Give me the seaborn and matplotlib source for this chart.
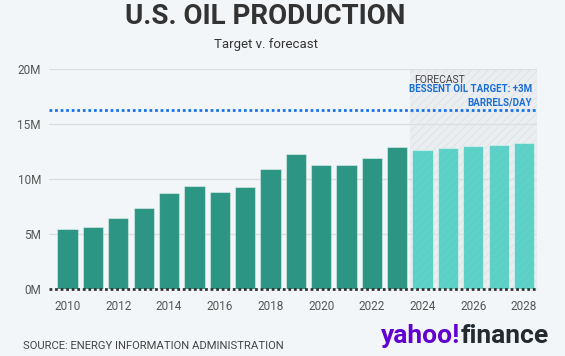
import matplotlib
matplotlib.use("Agg")
import matplotlib.pyplot as plt
import seaborn as sns
import pandas as pd
from matplotlib.patches import Rectangle

years = list(range(2010, 2029))
production_m = [5.45, 5.64, 6.48, 7.43, 8.75, 9.39, 8.85, 9.33, 10.94, 12.3,
                11.3, 11.27, 11.96, 12.9, 12.63, 12.82, 13.0, 13.12, 13.27]
kind = ["Actual"] * 14 + ["Forecast"] * 5
target_m = 16.3
y_ticks = [0, 5, 10, 15, 20]
y_labels = ["0M", "5M", "10M", "15M", "20M"]

BG = "#f3f6f9"
sns.set_theme(style="white")
plt.rcParams["font.family"] = ["Roboto", "DejaVu Sans"]
plt.rcParams["hatch.linewidth"] = 0.6

df = pd.DataFrame({"year": [str(y) for y in years], "value": production_m, "kind": kind})

fig = plt.figure(figsize=(5.65, 3.56), dpi=100, facecolor=BG)
ax = fig.add_axes([0.0873, 0.1874, 0.8627, 0.6179])
ax.set_facecolor(BG)

# forecast shaded region
ax.add_patch(Rectangle((13.5, 0), 5.0, 20, facecolor="#ebeef1", edgecolor="#dde1e5",
                       hatch="////", lw=0, zorder=0))

sns.barplot(data=df, x="year", y="value", hue="kind", dodge=False, width=0.8,
            palette={"Actual": "#2d9583", "Forecast": "#5bd0c6"}, saturation=1,
            edgecolor=(1, 1, 1, 0.4), linewidth=0.8, legend=False, ax=ax, zorder=2)

# faint stripes over forecast bars
ax.add_patch(Rectangle((13.5, 0), 5.0, 20, facecolor="none", edgecolor=(1, 1, 1, 0.07),
                       hatch="////", lw=0, zorder=3))

ax.set_xlim(-0.72, 18.5)
ax.set_ylim(0, 20)
ax.set_yticks(y_ticks)
ax.set_yticklabels(y_labels)
ax.set_xticks(range(len(years)))
ax.set_xticklabels([str(y) if y % 2 == 0 else "" for y in years])
ax.set_xlabel("")
ax.set_ylabel("")
for s in ax.spines.values():
    s.set_visible(False)
ax.grid(axis="y", color="#dadde0", lw=0.9, zorder=0)
ax.set_axisbelow(True)
ax.tick_params(axis="x", length=4, color="#cfd2d5", labelsize=8.5, labelcolor="#555555", pad=4)
ax.tick_params(axis="y", length=4, color="#cfd2d5", labelsize=8.5, labelcolor="#555555", pad=2)

ax.axhline(0, color="#333333", lw=2.0, ls=(0, (1, 1)), zorder=4, clip_on=False)
ax.axhline(target_m, color="#1a73e8", lw=2.0, ls=(0, (1, 1)), zorder=4)

ax.text(13.65, 19.0, "FORECAST", fontsize=7.5, color="#444444", va="center", ha="left",
        family=["Liberation Sans Narrow", "Roboto", "DejaVu Sans"])
ax.text(18.3, 18.2, "BESSENT OIL TARGET: +3M", fontsize=7.0, color="#1a6ed8", va="center",
        ha="right", fontweight="bold", family=["Liberation Sans Narrow", "Roboto", "DejaVu Sans"])
ax.text(18.3, 16.95, "BARRELS/DAY", fontsize=7.0, color="#1a6ed8", va="center",
        ha="right", fontweight="bold", family=["Liberation Sans Narrow", "Roboto", "DejaVu Sans"])

fig.text(0.47, 0.955, "U.S. OIL PRODUCTION", ha="center", va="center", fontsize=20,
         fontweight="bold", color="#333333")
fig.text(0.47, 0.875, "Target v. forecast", ha="center", va="center", fontsize=9.5,
         color="#333333")
fig.text(0.041, 0.028, "SOURCE: ENERGY INFORMATION ADMINISTRATION", ha="left", va="center",
         fontsize=8.1, color="#444444")
fig.text(0.815, 0.0365, "yahoo!", ha="right", va="baseline", fontsize=19, fontweight="bold",
         color="#6001d2")
fig.text(0.815, 0.0365, "finance", ha="left", va="baseline", fontsize=19, fontweight="bold",
         color="#232a31")

fig.savefig("out.png", dpi=100, facecolor=BG)
